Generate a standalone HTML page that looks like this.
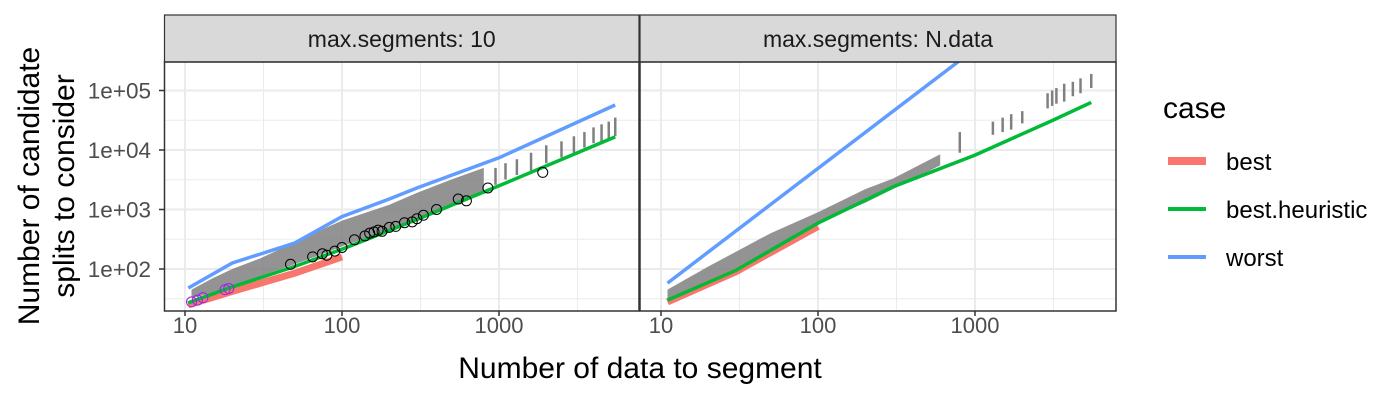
<!DOCTYPE html>
<html><head><meta charset="utf-8"><style>
body{margin:0;background:#fff;}
svg{display:block;font-family:"Liberation Sans",Arial,sans-serif;}
</style></head><body>
<svg id="chart" width="1400" height="400" viewBox="0 0 1400 400">
<rect width="1400" height="400" fill="#fff"/>
<g id="grid"></g>
<g id="marks"></g>
<g id="frame"></g>
<g id="axes"></g>
<text x="640" y="378" font-size="30" text-anchor="middle" fill="#000">Number of data to segment</text>
<text transform="translate(39,186) rotate(-90)" font-size="30" text-anchor="middle" fill="#000"><tspan x="0" y="0">Number of candidate</tspan><tspan x="0" y="35">splits to consider</tspan></text>
<g>
<text x="1163" y="118" font-size="30" fill="#000">case</text>
<g><rect x="1168" y="157" width="38" height="8" fill="#F8766D"/><text x="1226" y="170" font-size="24" fill="#000">best</text></g>
<g><rect x="1168" y="207" width="38" height="4" fill="#00BA38"/><text x="1226" y="218" font-size="24" fill="#000">best.heuristic</text></g>
<g><rect x="1168" y="255" width="38" height="4" fill="#619CFF"/><text x="1226" y="266" font-size="24" fill="#000">worst</text></g>
</g>
</svg>
<script>
const panelTitles = ["max.segments: 10", "max.segments: N.data"];
const xTicks = [10, 100, 1000];
const xTickLabels = ["10", "100", "1000"];
const yTicks = [100, 1000, 10000, 100000];
const yTickLabels = ["1e+02", "1e+03", "1e+04", "1e+05"];
// panel 1 (max.segments: 10)
const p1WorstN = [10.5, 20, 50, 100, 200, 300, 1000, 5500];
const p1WorstV = [48, 126, 273, 760, 1500, 2300, 7400, 57000];
const p1HeurN = [10.5, 20, 50, 100, 300, 1000, 5500];
const p1HeurV = [27, 50, 110, 215, 680, 2500, 16600];
const p1BestN = [10.5, 20, 50, 100];
const p1BestV = [25, 42, 85, 160];
const p1CloudN = [11, 15, 20, 30, 50, 80, 100, 200, 300, 500, 800];
const p1CloudLo = [32, 40, 52, 75, 120, 190, 240, 450, 700, 1200, 2000];
const p1CloudHi = [45, 70, 100, 150, 280, 500, 650, 1200, 1900, 3200, 5000];
const p1StickN = [950, 1100, 1300, 1600, 2000, 2500, 3000, 3500, 4000, 4500, 5000, 5500];
const p1StickLo = [2600, 3200, 3800, 4500, 6000, 7500, 9000, 11000, 13000, 14000, 15000, 17000];
const p1StickHi = [5000, 6000, 7000, 9000, 12000, 14000, 17000, 20000, 24000, 27000, 30000, 35000];
const p1CircN = [47, 65, 75, 80, 90, 100, 120, 140, 150, 160, 170, 180, 200, 220, 250, 280, 300, 330, 400, 550, 620, 850, 1900];
const p1CircV = [120, 160, 180, 170, 200, 230, 310, 360, 400, 420, 450, 430, 500, 520, 600, 620, 700, 800, 1000, 1500, 1400, 2300, 4200];
const p1PurpN = [11, 12, 13, 18, 19];
const p1PurpV = [28, 30, 33, 45, 47];
// panel 2 (max.segments: N.data)
const p2WorstN = [11, 100, 1000];
const p2WorstV = [58, 4900, 500000];
const p2HeurN = [11, 30, 100, 300, 1000, 3000, 5500];
const p2HeurV = [30, 95, 590, 2400, 8200, 30000, 63000];
const p2BestN = [11, 30, 100];
const p2BestV = [28, 90, 520];
const p2CloudN = [11, 20, 50, 100, 200, 300, 600];
const p2CloudLo = [30, 55, 200, 600, 1300, 2200, 5500];
const p2CloudHi = [45, 110, 400, 900, 2200, 3300, 8500];
const p2StickN = [800, 1300, 1500, 1700, 2000, 2900, 3100, 3300, 3700, 4200, 4700, 5500];
const p2StickLo = [9000, 18000, 20000, 22000, 28000, 50000, 55000, 60000, 65000, 80000, 90000, 110000];
const p2StickHi = [20000, 30000, 35000, 40000, 45000, 90000, 100000, 110000, 130000, 140000, 160000, 190000];

const NS = "http://www.w3.org/2000/svg";
const panels = [{x0:164.5, x1:639}, {x0:640, x1:1116}];
const PY0 = 62, PY1 = 311, SY0 = 15;
const ORG = [185, 661];
const DEC_X = 157, DEC_Y = 59.5, Y100 = 269;
function xs(p, n){ return ORG[p] + DEC_X*Math.log10(n/10); }
function ys(v){ return Y100 - DEC_Y*Math.log10(v/100); }
function mk(tag, attrs, parent){ const e=document.createElementNS(NS,tag); for(const k in attrs) e.setAttribute(k, attrs[k]); parent.appendChild(e); return e; }
const grid=document.getElementById('grid'), marks=document.getElementById('marks'), frame=document.getElementById('frame'), axes=document.getElementById('axes');

panels.forEach((pp,pi)=>{
  const bg = mk('rect',{x:pp.x0,y:PY0,width:pp.x1-pp.x0,height:PY1-PY0,fill:'#fff'},grid);
  
  
  for(let d=0.5; d<4; d++){
    const x = ORG[pi] + DEC_X*(d-1);
    if(x>pp.x0 && x<pp.x1) mk('line',{x1:x,x2:x,y1:PY0,y2:PY1,stroke:'#EBEBEB','stroke-width':1},grid);
  }
  for(let d=1.5; d<6; d++){
    const y = ys(Math.pow(10,d));
    if(y>PY0 && y<PY1) mk('line',{x1:pp.x0,x2:pp.x1,y1:y,y2:y,stroke:'#EBEBEB','stroke-width':1},grid);
  }
  xTicks.forEach(t=>{ const x=xs(pi,t); mk('line',{x1:x,x2:x,y1:PY0,y2:PY1,stroke:'#EBEBEB','stroke-width':2},grid); });
  yTicks.forEach(t=>{ const y=ys(t); mk('line',{x1:pp.x0,x2:pp.x1,y1:y,y2:y,stroke:'#EBEBEB','stroke-width':2},grid); });
  const st = mk('rect',{x:pp.x0,y:SY0,width:pp.x1-pp.x0,height:PY0-SY0,fill:'#D9D9D9',stroke:'#333','stroke-width':1.2},frame);
  
  
  const tt = mk('text',{x:(pp.x0+pp.x1)/2,y:47,'font-size':23,'text-anchor':'middle',fill:'#1A1A1A'},frame);
  tt.textContent = panelTitles[pi];
  
  
  const bd = mk('rect',{x:pp.x0,y:PY0,width:pp.x1-pp.x0,height:PY1-PY0,fill:'none',stroke:'#333','stroke-width':1.5},frame);
  
  
  xTicks.forEach((t,i)=>{
    const x=xs(pi,t);
    mk('line',{x1:x,x2:x,y1:PY1,y2:PY1+5,stroke:'#333','stroke-width':1.5},axes);
    const l=mk('text',{x:x,y:PY1+22,'font-size':22,'text-anchor':'middle',fill:'#4D4D4D'},axes);
    l.textContent=xTickLabels[i];
    
    
  });
});
yTicks.forEach((t,i)=>{
  const y=ys(t);
  mk('line',{x1:159,x2:164.5,y1:y,y2:y,stroke:'#333','stroke-width':1.5},axes);
  const l=mk('text',{x:151,y:y+8,'font-size':22.5,'text-anchor':'end',fill:'#4D4D4D'},axes);
  l.textContent=yTickLabels[i];
  
  
});

const defs = mk('defs',{},marks);
panels.forEach((pp,pi)=>{
  const cp = mk('clipPath',{id:'clip'+pi},defs);
  mk('rect',{x:pp.x0,y:PY0,width:pp.x1-pp.x0,height:PY1-PY0},cp);
});
function path(p, N, V){ return N.map((n,i)=>(i?'L':'M')+xs(p,n).toFixed(1)+','+ys(V[i]).toFixed(1)).join(''); }
function drawPanel(pi, d){
  const g = mk('g',{'clip-path':'url(#clip'+pi+')'},marks);
  
  
  const cl = path(pi,d.cN,d.cHi) + d.cN.slice().reverse().map((n,i)=>'L'+xs(pi,n).toFixed(1)+','+ys(d.cLo[d.cN.length-1-i]).toFixed(1)).join('')+'Z';
  const c = mk('path',{d:cl,fill:'#808080',opacity:0.85},g);
  
  
  d.sN.forEach((n,i)=>{
    const x=xs(pi,n);
    const s=mk('line',{x1:x,x2:x,y1:ys(d.sLo[i]),y2:ys(d.sHi[i]),stroke:'#808080','stroke-width':2.5},g);
    
    
  });
  const b=mk('path',{d:path(pi,d.bN,d.bV),stroke:'#F8766D','stroke-width':7,fill:'none'},g);
  
  
  const h=mk('path',{d:path(pi,d.hN,d.hV),stroke:'#00BA38','stroke-width':3.5,fill:'none'},g);
  
  
  const w=mk('path',{d:path(pi,d.wN,d.wV),stroke:'#619CFF','stroke-width':3.5,fill:'none'},g);
  
  
  (d.circN||[]).forEach((n,i)=>{
    const o=mk('circle',{cx:xs(pi,n),cy:ys(d.circV[i]),r:5,fill:'none',stroke:'#000','stroke-width':1},g);
    
    
  });
  (d.purpN||[]).forEach((n,i)=>{
    const o=mk('circle',{cx:xs(pi,n),cy:ys(d.purpV[i]),r:5,fill:'none',stroke:'#A020F0','stroke-width':1},g);
    
    
  });
}
drawPanel(0,{cN:p1CloudN,cLo:p1CloudLo,cHi:p1CloudHi,sN:p1StickN,sLo:p1StickLo,sHi:p1StickHi,bN:p1BestN,bV:p1BestV,hN:p1HeurN,hV:p1HeurV,wN:p1WorstN,wV:p1WorstV,circN:p1CircN,circV:p1CircV,purpN:p1PurpN,purpV:p1PurpV});
drawPanel(1,{cN:p2CloudN,cLo:p2CloudLo,cHi:p2CloudHi,sN:p2StickN,sLo:p2StickLo,sHi:p2StickHi,bN:p2BestN,bV:p2BestV,hN:p2HeurN,hV:p2HeurV,wN:p2WorstN,wV:p2WorstV});
</script>
</body></html>
